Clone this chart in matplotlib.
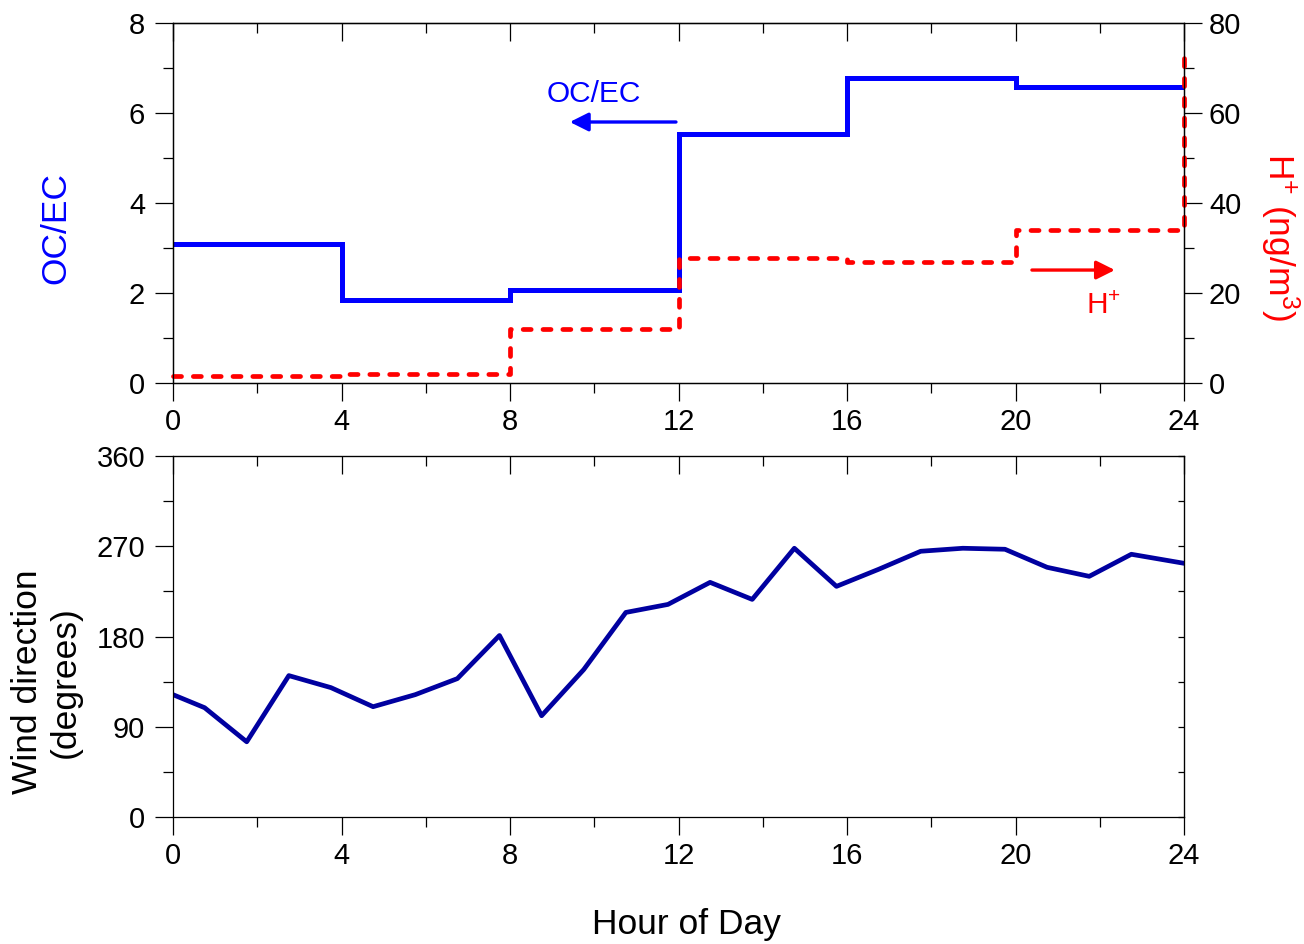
import matplotlib
matplotlib.use("Agg")
import matplotlib.pyplot as plt
from matplotlib.ticker import MultipleLocator

plt.rcParams['font.family'] = ['Liberation Sans', 'DejaVu Sans']
plt.rcParams['mathtext.fontset'] = 'custom'
plt.rcParams['mathtext.rm'] = 'Liberation Sans'
plt.rcParams['mathtext.it'] = 'Liberation Sans:italic'
plt.rcParams['mathtext.bf'] = 'Liberation Sans:bold'

# === Datos ===
# bloques de 4 h (escalon 'post', el ultimo punto cierra en 24 h)
hora_bloque = [0, 4, 8, 12, 16, 20, 24]
oc_ec = [3.09, 1.84, 2.07, 5.54, 6.78, 6.57, 6.57]
h_mas = [1.6, 2.1, 11.9, 27.8, 27.0, 34.1, 72.2]

# direccion del viento (horaria)
hora_viento = [0, 0.75, 1.75, 2.75, 3.75, 4.75, 5.75, 6.75, 7.75, 8.75,
               9.75, 10.75, 11.75, 12.75, 13.75, 14.75, 15.75, 16.75,
               17.75, 18.75, 19.75, 20.75, 21.75, 22.75, 24]
dir_viento = [122, 109, 75, 141, 129, 110, 122, 138, 181, 101,
              147, 204, 212, 234, 217, 268, 230, 247,
              265, 268, 267, 249, 240, 262, 253]

xticks = [0, 4, 8, 12, 16, 20, 24]

AZUL = '#0000FF'
ROJO = '#FF0000'
NAVY = '#0000A0'
FS_TICK = 21
FS_LAB = 25.5
FS_NOTA = 21.5

fig = plt.figure(figsize=(13.04, 9.44), dpi=100)
W, H = 1304, 944

def rect(x0, x1, y0, y1):
    return [x0 / W, 1 - y1 / H, (x1 - x0) / W, (y1 - y0) / H]

# === Grafica superior: OC/EC y H+ ===
ax1 = fig.add_axes(rect(173, 1184, 23, 383))
ax1.plot(hora_bloque, oc_ec, drawstyle='steps-post', color=AZUL, lw=3.6,
         solid_joinstyle='miter')
ax1.set_xlim(0, 24)
ax1.set_ylim(0, 8)
ax1.set_xticks(xticks)
ax1.xaxis.set_minor_locator(MultipleLocator(2))
ax1.yaxis.set_major_locator(MultipleLocator(2))
ax1.yaxis.set_minor_locator(MultipleLocator(1))
ax1.tick_params(which='both', direction='out', width=0.9, labelsize=FS_TICK,
                right=False, top=False)
ax1.tick_params(which='major', length=13)
ax1.tick_params(which='minor', length=7)
ax1.tick_params(axis='x', pad=5)
ax1.tick_params(axis='y', pad=7)
sec1 = ax1.secondary_xaxis('top')
sec1.set_xticks(xticks)
sec1.xaxis.set_minor_locator(MultipleLocator(2))
sec1.tick_params(which='both', direction='in', labeltop=False, width=0.9)
sec1.tick_params(which='major', length=13)
sec1.tick_params(which='minor', length=7)

ax1.set_ylabel('OC/EC', fontsize=FS_LAB, color=AZUL, va='center')
ax1.yaxis.set_label_coords(-0.1157, 0.43)

ax2 = ax1.twinx()
ax2.plot(hora_bloque, h_mas, drawstyle='steps-post', color=ROJO, lw=3.4,
         dashes=(1.7, 2.5), dash_capstyle='round', clip_on=False)
ax2.set_ylim(0, 80)
ax2.yaxis.set_major_locator(MultipleLocator(20))
ax2.yaxis.set_minor_locator(MultipleLocator(10))
ax2.tick_params(which='both', direction='out', width=0.9, labelsize=FS_TICK, pad=5)
ax2.tick_params(which='major', length=13)
ax2.tick_params(which='minor', length=7)
ax2.set_ylabel(r'H$^{+}$ (ng/m$^{3}$)', fontsize=FS_LAB, color=ROJO,
               rotation=270, va='center')
ax2.yaxis.set_label_coords(1.095, 0.405)

# flechas y rotulos
ax1.annotate('', xy=(9.42, 5.8), xytext=(11.94, 5.8),
             arrowprops=dict(arrowstyle='-|>', color=AZUL, lw=2.4,
                             mutation_scale=28, shrinkA=0, shrinkB=0))
ax1.text(9.99, 6.43, 'OC/EC', color=AZUL, fontsize=FS_NOTA, ha='center', va='center')
ax2.annotate('', xy=(22.36, 25.1), xytext=(20.39, 25.1),
             arrowprops=dict(arrowstyle='-|>', color=ROJO, lw=2.4,
                             mutation_scale=28, shrinkA=0, shrinkB=0))
ax2.text(22.08, 17.2, r'H$^{+}$', color=ROJO, fontsize=FS_NOTA, ha='center', va='center')

for a in (ax1, ax2):
    for s in a.spines.values():
        s.set_linewidth(0.9)

# === Grafica inferior: direccion del viento ===
ax3 = fig.add_axes(rect(173, 1184, 456, 817))
ax3.plot(hora_viento, dir_viento, color=NAVY, lw=3.4)
ax3.set_xlim(0, 24)
ax3.set_ylim(0, 360)
ax3.set_xticks(xticks)
ax3.xaxis.set_minor_locator(MultipleLocator(2))
ax3.yaxis.set_major_locator(MultipleLocator(90))
ax3.yaxis.set_minor_locator(MultipleLocator(45))
ax3.tick_params(which='both', direction='out', width=0.9, labelsize=FS_TICK,
                right=False, top=False)
ax3.tick_params(which='major', length=13)
ax3.tick_params(which='minor', length=7)
ax3.tick_params(axis='x', pad=5)
ax3.tick_params(axis='y', pad=7)
sec3 = ax3.secondary_xaxis('top')
sec3.set_xticks(xticks)
sec3.xaxis.set_minor_locator(MultipleLocator(2))
sec3.tick_params(which='both', direction='in', labeltop=False, width=0.9)
sec3.tick_params(which='major', length=13)
sec3.tick_params(which='minor', length=7)
sec3r = ax3.secondary_yaxis('right')
sec3r.yaxis.set_major_locator(MultipleLocator(90))
sec3r.yaxis.set_minor_locator(MultipleLocator(45))
sec3r.tick_params(which='both', direction='in', labelright=False, length=4, width=0.9)
for s in ax3.spines.values():
    s.set_linewidth(0.9)

ax3.set_ylabel('Wind direction\n(degrees)', fontsize=FS_LAB, va='center',
               linespacing=1.2)
ax3.yaxis.set_label_coords(-0.125, 0.374)
ax3.set_xlabel('Hour of Day', fontsize=FS_LAB, va='center')
ax3.xaxis.set_label_coords(0.508, -0.299)

fig.savefig('out.png', dpi=100)
